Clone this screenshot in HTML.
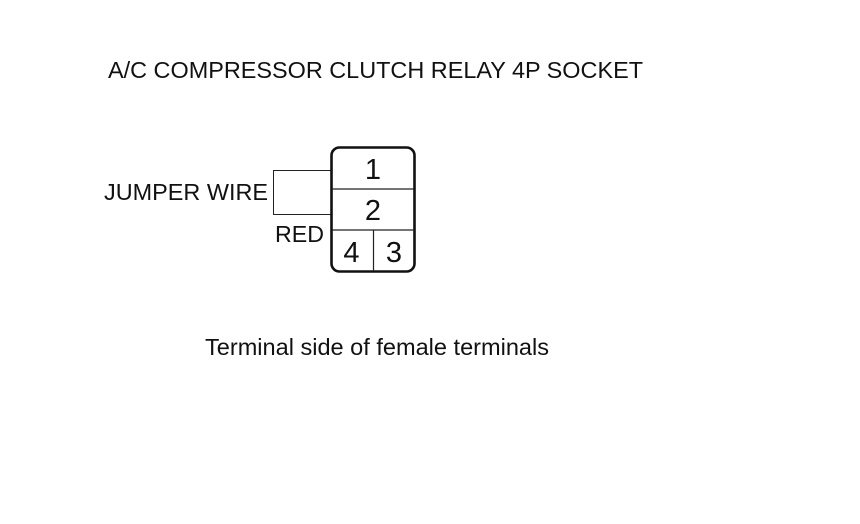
<!DOCTYPE html>
<html>
<head>
<meta charset="utf-8">
<style>
html,body{margin:0;padding:0;background:#fff;}
svg{display:block;}
text{font-family:"Liberation Sans",Arial,sans-serif;fill:#111;}
</style>
</head>
<body>
<svg width="860" height="524" viewBox="0 0 860 524" xmlns="http://www.w3.org/2000/svg">
<rect width="860" height="524" fill="#fff"/>
<text x="108" y="78" font-size="23" textLength="535" lengthAdjust="spacingAndGlyphs">A/C COMPRESSOR CLUTCH RELAY 4P SOCKET</text>
<text x="104" y="200" font-size="23" textLength="164" lengthAdjust="spacingAndGlyphs">JUMPER WIRE</text>
<text x="275" y="242" font-size="23" textLength="49" lengthAdjust="spacingAndGlyphs">RED</text>
<text x="205" y="355" font-size="23" textLength="344" lengthAdjust="spacingAndGlyphs">Terminal side of female terminals</text>
<path d="M331 170.500H273.500V214.500H331" fill="none" stroke="#222" stroke-width="1"/>
<rect x="331.500" y="147.500" width="83" height="124" rx="8" ry="8" fill="none" stroke="#111" stroke-width="2.600"/>
<path d="M332 189H414M332 230H414M373.500 230V271" fill="none" stroke="#222" stroke-width="1.200"/>
<text x="373" y="179" font-size="29" text-anchor="middle">1</text>
<text x="373" y="220" font-size="29" text-anchor="middle">2</text>
<text x="351.500" y="262" font-size="29" text-anchor="middle">4</text>
<text x="394" y="262" font-size="29" text-anchor="middle">3</text>
</svg>
</body>
</html>
